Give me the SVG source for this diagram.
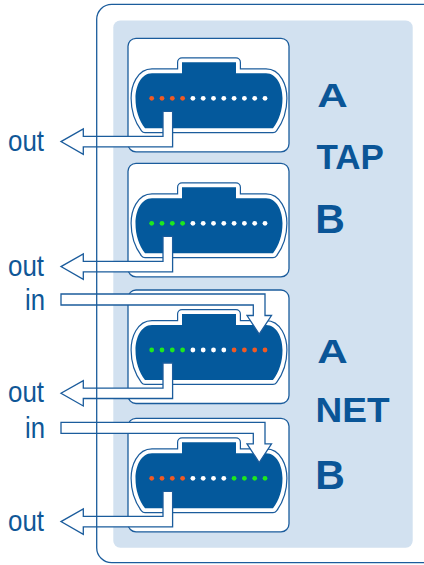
<svg xmlns="http://www.w3.org/2000/svg" xmlns:xlink="http://www.w3.org/1999/xlink" width="424" height="565" viewBox="0 0 424 565">
<style>
.card{fill:#ffffff;stroke:#1b5c9c;stroke-width:1.3}
.plug-o{fill:none;stroke:#1b5c9c;stroke-width:10;stroke-linejoin:round}
.plug-w{fill:none;stroke:#ffffff;stroke-width:7.6;stroke-linejoin:round}
.plug-d{fill:#04599c;stroke:none}
.r{fill:#f05a24}.w{fill:#ffffff}.g{fill:#1ee81e}
.pipe{fill:#ffffff;stroke:#1b5c9c;stroke-width:1.3;stroke-linejoin:miter}
.lbl{font-family:"Liberation Sans",Arial,sans-serif;font-size:30px;fill:#0f5797}
.big{font-family:"Liberation Sans",Arial,sans-serif;font-weight:bold;fill:#0a5597}
</style>
<defs>
<path id="plug" d="M152,35 H182 V24 H236 V35 H266 C277,35 282.5,48 282.5,60 C282.5,72 279,82 273,90 H145 C139,82 135.5,72 135.5,60 C135.5,48 141,35 152,35 Z"/>
<g id="conn">
<rect class="card" x="128" y="0" width="161" height="113.5" rx="8"/>
<use href="#plug" xlink:href="#plug" class="plug-o"/>
<use href="#plug" xlink:href="#plug" class="plug-w"/>
<use href="#plug" xlink:href="#plug" class="plug-d"/>
</g>
</defs>
<rect id="frame-bg" x="96.7" y="4.3" width="345" height="558.4" rx="15" fill="#ffffff"/>
<rect id="panel" x="113.3" y="20.5" width="299.4" height="527.2" rx="7" fill="#d2e1f0"/>

<g id="tap-a" transform="translate(0,38.3)">
<use href="#conn" xlink:href="#conn"/>
<circle class="r" cx="151.7" cy="60" r="2.4"/><circle class="r" cx="162" cy="60" r="2.4"/><circle class="r" cx="172.3" cy="60" r="2.4"/><circle class="r" cx="182.6" cy="60" r="2.4"/>
<circle class="w" cx="192.9" cy="60" r="2.4"/><circle class="w" cx="203.2" cy="60" r="2.4"/><circle class="w" cx="213.5" cy="60" r="2.4"/><circle class="w" cx="223.8" cy="60" r="2.4"/>
<circle class="w" cx="234.1" cy="60" r="2.4"/><circle class="w" cx="244.4" cy="60" r="2.4"/><circle class="w" cx="254.7" cy="60" r="2.4"/><circle class="w" cx="265" cy="60" r="2.4"/>
</g>
<g id="tap-b" transform="translate(0,163.3)">
<use href="#conn" xlink:href="#conn"/>
<circle class="g" cx="151.7" cy="60" r="2.4"/><circle class="g" cx="162" cy="60" r="2.4"/><circle class="g" cx="172.3" cy="60" r="2.4"/><circle class="g" cx="182.6" cy="60" r="2.4"/>
<circle class="w" cx="192.9" cy="60" r="2.4"/><circle class="w" cx="203.2" cy="60" r="2.4"/><circle class="w" cx="213.5" cy="60" r="2.4"/><circle class="w" cx="223.8" cy="60" r="2.4"/>
<circle class="w" cx="234.1" cy="60" r="2.4"/><circle class="w" cx="244.4" cy="60" r="2.4"/><circle class="w" cx="254.7" cy="60" r="2.4"/><circle class="w" cx="265" cy="60" r="2.4"/>
</g>
<g id="net-a" transform="translate(0,290)">
<use href="#conn" xlink:href="#conn"/>
<circle class="g" cx="151.7" cy="60" r="2.4"/><circle class="g" cx="162" cy="60" r="2.4"/><circle class="g" cx="172.3" cy="60" r="2.4"/><circle class="g" cx="182.6" cy="60" r="2.4"/>
<circle class="w" cx="192.9" cy="60" r="2.4"/><circle class="w" cx="203.2" cy="60" r="2.4"/><circle class="w" cx="213.5" cy="60" r="2.4"/><circle class="w" cx="223.8" cy="60" r="2.4"/>
<circle class="r" cx="234.1" cy="60" r="2.4"/><circle class="r" cx="244.4" cy="60" r="2.4"/><circle class="r" cx="254.7" cy="60" r="2.4"/><circle class="r" cx="265" cy="60" r="2.4"/>
</g>
<g id="net-b" transform="translate(0,418.3)">
<use href="#conn" xlink:href="#conn"/>
<circle class="r" cx="151.7" cy="60" r="2.4"/><circle class="r" cx="162" cy="60" r="2.4"/><circle class="r" cx="172.3" cy="60" r="2.4"/><circle class="r" cx="182.6" cy="60" r="2.4"/>
<circle class="w" cx="192.9" cy="60" r="2.4"/><circle class="w" cx="203.2" cy="60" r="2.4"/><circle class="w" cx="213.5" cy="60" r="2.4"/><circle class="w" cx="223.8" cy="60" r="2.4"/>
<circle class="g" cx="234.1" cy="60" r="2.4"/><circle class="g" cx="244.4" cy="60" r="2.4"/><circle class="g" cx="254.7" cy="60" r="2.4"/><circle class="g" cx="265" cy="60" r="2.4"/>
</g>

<g id="connectors">
<path class="pipe" d="M163,111.3 V136.4 H83.3 V128.9 L61,141.6 L83.3,154.3 V146.8 H172.6 V111.3 Z"/>
<path class="pipe" d="M163,236.3 V261.4 H83.3 V253.9 L61,266.6 L83.3,279.3 V271.8 H172.6 V236.3 Z"/>
<path class="pipe" d="M163,363 V388.1 H83.3 V380.6 L61,393.3 L83.3,406 V398.5 H172.6 V363 Z"/>
<path class="pipe" d="M163,491.3 V516.4 H83.3 V508.9 L61,521.6 L83.3,534.3 V526.8 H172.6 V491.3 Z"/>
<path class="pipe" d="M61,294 H265 V315.5 H271.5 L259.2,334.2 L247,315.5 H253.3 V305 H61 Z"/>
<path class="pipe" d="M61,422.3 H265 V443.8 H271.5 L259.2,462.5 L247,443.8 H253.3 V433.3 H61 Z"/>
</g>

<rect id="frame" x="96.7" y="4.3" width="345" height="558.4" rx="15" fill="none" stroke="#1b5c9c" stroke-width="1.3"/>

<g id="labels">
<text class="lbl" x="8" y="150.6" textLength="36" lengthAdjust="spacingAndGlyphs">out</text>
<text class="lbl" x="8" y="275.6" textLength="36" lengthAdjust="spacingAndGlyphs">out</text>
<text class="lbl" x="25" y="310" textLength="20" lengthAdjust="spacingAndGlyphs">in</text>
<text class="lbl" x="8" y="402.3" textLength="36" lengthAdjust="spacingAndGlyphs">out</text>
<text class="lbl" x="25" y="438.3" textLength="20" lengthAdjust="spacingAndGlyphs">in</text>
<text class="lbl" x="8" y="530.6" textLength="36" lengthAdjust="spacingAndGlyphs">out</text>
<text class="big" x="317.3" y="107.3" font-size="34" textLength="30.5" lengthAdjust="spacingAndGlyphs">A</text>
<text class="big" x="316.5" y="169" font-size="35">TAP</text>
<text class="big" x="315.3" y="233.3" font-size="41">B</text>
<text class="big" x="317.3" y="362.7" font-size="34" textLength="30.5" lengthAdjust="spacingAndGlyphs">A</text>
<text class="big" x="315.5" y="422.3" font-size="35" textLength="74" lengthAdjust="spacingAndGlyphs">NET</text>
<text class="big" x="315.3" y="489" font-size="41">B</text>
</g>
</svg>
